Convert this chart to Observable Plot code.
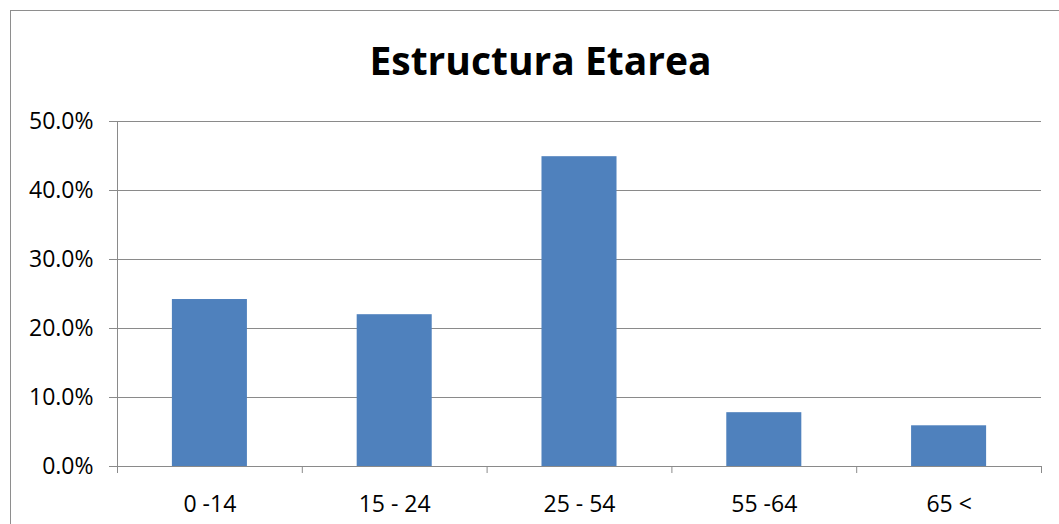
<!DOCTYPE html>
<html>
<head>
<meta charset="utf-8">
<script src="https://cdn.jsdelivr.net/npm/d3@7"></script>
<script src="https://cdn.jsdelivr.net/npm/@observablehq/plot@0.6"></script>
<style>
  html, body { margin: 0; padding: 0; background: #fff; overflow: hidden; }
  #wrap { position: relative; width: 1059px; height: 524px; }
  #frame { position: absolute; left: 10px; top: 10px; width: 1100px; height: 600px;
           border: 1.5px solid #8e8e8e; box-sizing: border-box; pointer-events: none; }
  #title { width: 1081px; height: 100px; padding-top: 18px; box-sizing: border-box;
           display: flex; align-items: center; justify-content: center;
           font-family: "Open Sans", Calibri, Carlito, Lato, sans-serif;
           font-weight: bold; font-size: 39px; color: #000; }
  #chart svg { display: block; }
</style>
</head>
<body>
<div id="wrap">
  <div id="title">Estructura Etarea</div>
  <div id="chart"></div>
  <div id="frame"></div>
</div>
<script>
const categories = ["0 -14", "15 - 24", "25 - 54", "55 -64", "65 <"];
const values = [0.242, 0.220, 0.449, 0.078, 0.059];
const yTicks = [0, 0.1, 0.2, 0.3, 0.4, 0.5];

const data = categories.map((c, i) => ({i, c, v: values[i]}));
const gray = "#8a8a8a";
const font = "'Open Sans', sans-serif";

const chart = Plot.plot({
  width: 1059,
  height: 424,
  marginLeft: 117,
  marginRight: 18,
  marginTop: 21,
  marginBottom: 58,
  x: {type: "linear", domain: [0, categories.length], axis: null},
  y: {domain: [0, 0.5], axis: null},
  style: {fontFamily: font, fontSize: "23px", color: "#000", background: "transparent"},
  marks: [
    Plot.ruleY(yTicks.slice(1), {stroke: gray, strokeWidth: 1}),
    Plot.rect(data, {x1: d => d.i + 0.297, x2: d => d.i + 0.703, y1: 0, y2: "v", fill: "#4f81bd"}),
    Plot.axisY({ticks: yTicks, tickFormat: d3.format(".1%"), tickSize: 8, tickPadding: 16,
                stroke: gray, fill: "#000", fontSize: 23, label: null}),
    Plot.ruleX([0], {stroke: gray}),
    Plot.ruleY([0], {stroke: gray}),
    Plot.axisX({ticks: d3.range(categories.length + 1), tickSize: 7, tickFormat: () => "",
                stroke: gray, label: null}),
    Plot.axisX({ticks: categories.map((c, i) => i + 0.5), tickSize: 0, tickPadding: 29,
                tickFormat: t => categories[Math.floor(t)], fill: "#000", fontSize: 23, label: null})
  ]
});
document.getElementById("chart").appendChild(chart);
</script>
</body>
</html>
